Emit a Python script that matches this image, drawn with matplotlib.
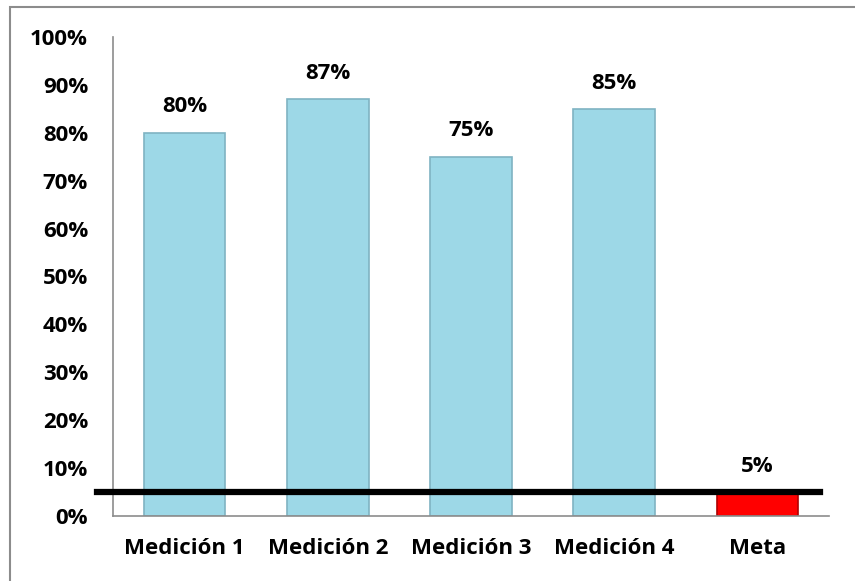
import matplotlib.pyplot as plt
from matplotlib.patches import Rectangle

categories = ['Medición 1', 'Medición 2', 'Medición 3', 'Medición 4', 'Meta']
values = [80, 87, 75, 85, 5]
meta_value = 5
yticks = [0, 10, 20, 30, 40, 50, 60, 70, 80, 90, 100]

W, H = 855, 581
fig = plt.figure(figsize=(W / 100, H / 100), dpi=100)
plt.rcParams['font.family'] = ['Open Sans', 'DejaVu Sans']

# outer frame, only top and left edges are visible in the picture
fig.patches.append(Rectangle((10 / W, -0.1), 1.2, 1 - 7 / H + 0.1,
                             transform=fig.transFigure, fill=False,
                             edgecolor='#8c8c8c', linewidth=1.5))

ax = fig.add_axes([113 / W, 1 - 516 / H, (829 - 113) / W, (516 - 37) / H])

colors = ['#9dd8e7'] * 4 + ['#ff0000']
edges = ['#7fb3c2'] * 4 + ['#b00000']
x = range(len(categories))
bars = ax.bar(x, values, width=0.57, color=colors, edgecolor=edges, linewidth=1.2)

for b, v in zip(bars, values):
    ax.text(b.get_x() + b.get_width() / 2, v + 3.2, f'{v}%', ha='center', va='bottom',
            fontsize=16, fontweight='bold')

# meta line, drawn a bit past the y axis
ax.plot([-0.61, 4.44], [meta_value, meta_value], color='black', linewidth=4.5,
        clip_on=False, zorder=5)

ax.set_xlim(-0.5, 4.5)
ax.set_ylim(0, 100)
ax.set_yticks(yticks)
ax.set_yticklabels([f'{t}%' for t in yticks], fontsize=16, fontweight='bold')
ax.set_xticks(list(x))
ax.set_xticklabels(categories, fontsize=16, fontweight='bold')
ax.tick_params(length=0)
ax.tick_params(axis='y', pad=18)
ax.tick_params(axis='x', pad=16)

for s in ['top', 'right']:
    ax.spines[s].set_visible(False)
for s in ['left', 'bottom']:
    ax.spines[s].set_color('#8c8c8c')
    ax.spines[s].set_linewidth(1.2)

fig.savefig('out.png', dpi=100)
